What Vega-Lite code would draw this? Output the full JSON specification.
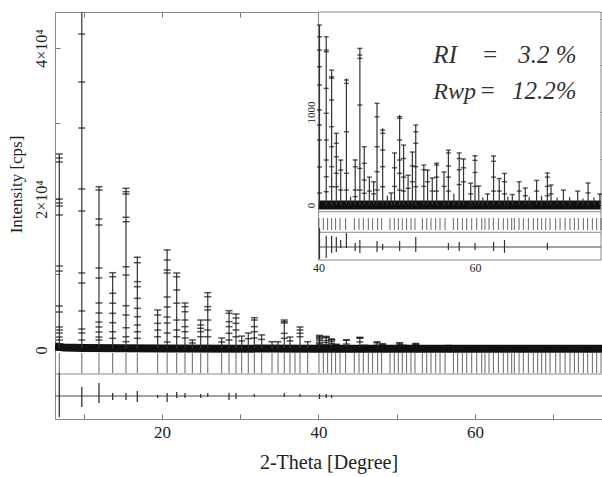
{
  "$schema": "https://vega.github.io/schema/vega-lite/v6.json",
  "width": 547,
  "height": 407,
  "autosize": {"type": "none"},
  "padding": {"left": 55, "top": 12, "right": 0, "bottom": 58},
  "config": {
    "view": {"stroke": null},
    "font": "Liberation Serif",
    "axis": {"grid": false, "labelFont": "Liberation Serif", "titleFont": "Liberation Serif", "labelColor": "#222", "titleColor": "#222", "titleFontWeight": "normal", "domainColor": "#888", "tickColor": "#777", "labelFlush": false, "labelOverlap": false}
  },
  "datasets": {
    "peaks": [
      {"t": 6.88, "h": 25960, "o": [25960, 25430, 24900, 20000, 19470, 19070, 17880, 11130, 10460, 5830, 5030, 3050, 2650, 2250, 1720, 1320]},
      {"t": 9.755, "h": 60000, "o": [41850, 35500, 29400, 21320, 18410, 10200, 8870, 5170, 2780, 2250, 1320]},
      {"t": 11.95, "h": 21630, "o": [21630, 21190, 17350, 16560, 10860, 9540, 6230, 4900, 3710, 3050, 2380, 1720, 1320]},
      {"t": 13.7, "h": 10240, "o": [10240, 9710, 7510, 6190, 4860, 3620, 2420, 1550]},
      {"t": 15.4, "h": 21450, "o": [21420, 20970, 20660, 17580, 16990, 11030, 9930, 5870, 4640, 2950, 1760, 1100]},
      {"t": 16.85, "h": 12360, "o": [12280, 11560, 9050, 8380, 6850, 5520, 4410, 3310, 2420, 1550]},
      {"t": 19.45, "h": 5300, "o": [5300, 4640, 3530, 2650, 1760]},
      {"t": 20.66, "h": 13300, "o": [13250, 11920, 10600, 10200, 7020, 5700, 4370, 3580, 2250, 1060]},
      {"t": 21.88, "h": 10200, "o": [10200, 9710, 7950, 6190, 3970, 2650, 1760]},
      {"t": 22.94, "h": 6220, "o": [6230, 5740, 5070, 3970, 3090, 2420, 1590]},
      {"t": 23.88, "h": 1325, "o": [1325, 930]},
      {"t": 24.95, "h": 3970, "o": [3970, 3310, 2870, 2420, 1760]},
      {"t": 25.85, "h": 7600, "o": [7590, 7060, 5740, 5300, 3970, 2650, 1760]},
      {"t": 27.63, "h": 1590, "o": [1590, 1060]},
      {"t": 28.57, "h": 5210, "o": [5210, 4860, 3750, 3090, 2210, 1320]},
      {"t": 29.46, "h": 4770, "o": [4770, 4240, 3530, 2650, 1760]},
      {"t": 30.19, "h": 1850, "o": [1850, 1200]},
      {"t": 31.03, "h": 2250, "o": [2250, 1500]},
      {"t": 31.8, "h": 4280, "o": [4280, 3970, 3090, 2420, 1590]},
      {"t": 32.74, "h": 2000, "o": [2000, 1400]},
      {"t": 34.06, "h": 1100, "o": [1100]},
      {"t": 34.83, "h": 1100, "o": [1100]},
      {"t": 35.63, "h": 3970, "o": [3970, 3750, 3580, 2210, 1550]},
      {"t": 36.36, "h": 1720, "o": [1720, 1200]},
      {"t": 37.64, "h": 3050, "o": [3050, 2650, 2210, 1760]},
      {"t": 38.62, "h": 1100, "o": [1100]},
      {"t": 40.13, "h": 1935, "o": [1935, 1809, 1666, 1487, 1290, 1021, 860, 699, 409, 129]},
      {"t": 40.99, "h": 1810, "o": [1809, 1666, 1648, 1254, 986, 699, 484, 304, 143]},
      {"t": 41.68, "h": 1450, "o": [1451, 1379, 1362, 1129, 842, 627, 412, 197]},
      {"t": 42.28, "h": 770, "o": [771, 663, 519, 341, 197]},
      {"t": 42.84, "h": 485, "o": [484, 376, 161]},
      {"t": 43.57, "h": 1360, "o": [1344, 1308, 788, 341, 161]},
      {"t": 44.1, "h": 90, "o": []},
      {"t": 44.69, "h": 490, "o": [484, 412, 161, 90]},
      {"t": 45.29, "h": 1685, "o": [1684, 1613, 1577, 1075, 394, 161]},
      {"t": 45.85, "h": 625, "o": [627, 448, 269, 126]},
      {"t": 46.5, "h": 300, "o": [300, 150]},
      {"t": 47.05, "h": 250, "o": [250, 120]},
      {"t": 47.48, "h": 1095, "o": [1093, 949, 627, 358, 161]},
      {"t": 48.2, "h": 825, "o": [806, 771, 591, 412, 197]},
      {"t": 48.8, "h": 100, "o": []},
      {"t": 49.29, "h": 130, "o": [130]},
      {"t": 49.72, "h": 560, "o": [560, 400, 200]},
      {"t": 50.37, "h": 970, "o": [949, 932, 699, 484, 341, 161]},
      {"t": 50.88, "h": 645, "o": [645, 500, 300, 150]},
      {"t": 51.45, "h": 320, "o": [320, 180]},
      {"t": 52.0, "h": 570, "o": [570, 420, 250]},
      {"t": 52.43, "h": 860, "o": [860, 788, 663, 412, 197]},
      {"t": 53.46, "h": 430, "o": [430, 380, 200]},
      {"t": 53.94, "h": 376, "o": [376, 250]},
      {"t": 54.54, "h": 290, "o": [290, 150]},
      {"t": 55.1, "h": 450, "o": [450, 430, 300, 150]},
      {"t": 56.04, "h": 355, "o": [355, 200]},
      {"t": 56.6, "h": 590, "o": [590, 560, 420, 300, 150]},
      {"t": 57.3, "h": 120, "o": []},
      {"t": 57.98, "h": 560, "o": [560, 500, 380, 220]},
      {"t": 58.54, "h": 495, "o": [495, 400, 250]},
      {"t": 59.45, "h": 235, "o": [235, 120]},
      {"t": 60.0, "h": 530, "o": [530, 480, 350, 200]},
      {"t": 60.48, "h": 205, "o": [205]},
      {"t": 61.0, "h": 80, "o": []},
      {"t": 61.6, "h": 120, "o": [120]},
      {"t": 62.37, "h": 527, "o": [527, 470, 300, 150]},
      {"t": 63.1, "h": 285, "o": [285, 150]},
      {"t": 63.77, "h": 340, "o": [340, 250, 120]},
      {"t": 64.2, "h": 90, "o": []},
      {"t": 64.77, "h": 113, "o": [113]},
      {"t": 65.64, "h": 250, "o": [250, 150]},
      {"t": 66.43, "h": 183, "o": [183, 100]},
      {"t": 66.93, "h": 86, "o": []},
      {"t": 67.87, "h": 265, "o": [265, 150]},
      {"t": 68.5, "h": 100, "o": []},
      {"t": 69.25, "h": 344, "o": [344, 300, 200, 100]},
      {"t": 69.72, "h": 215, "o": [215, 120]},
      {"t": 70.5, "h": 80, "o": []},
      {"t": 71.3, "h": 160, "o": [160]},
      {"t": 72.1, "h": 86, "o": []},
      {"t": 73.12, "h": 150, "o": [150]},
      {"t": 73.8, "h": 70, "o": []},
      {"t": 74.45, "h": 237, "o": [237, 130]},
      {"t": 75.2, "h": 80, "o": []},
      {"t": 75.96, "h": 118, "o": [118]}
    ],
    "refl": [
      {"t": 6.88}, {"t": 9.755}, {"t": 11.95}, {"t": 13.7}, {"t": 15.4}, {"t": 16.85}, {"t": 19.45}, {"t": 20.66}, {"t": 21.88}, {"t": 22.94},
      {"t": 23.88}, {"t": 24.95}, {"t": 25.85}, {"t": 27.63}, {"t": 28.57}, {"t": 29.46}, {"t": 30.19}, {"t": 31.03}, {"t": 31.8}, {"t": 32.74},
      {"t": 34.06}, {"t": 34.83}, {"t": 35.63}, {"t": 36.36}, {"t": 37.0}, {"t": 37.64}, {"t": 38.62},
      {"t": 40.06}, {"t": 40.62}, {"t": 41.17}, {"t": 41.68}, {"t": 42.19}, {"t": 42.75}, {"t": 43.47}, {"t": 44.58}, {"t": 45.18}, {"t": 45.73},
      {"t": 46.37}, {"t": 46.92}, {"t": 47.56}, {"t": 48.07}, {"t": 49.14}, {"t": 49.69}, {"t": 50.2}, {"t": 50.71}, {"t": 51.26}, {"t": 51.82},
      {"t": 52.33}, {"t": 53.27}, {"t": 53.83}, {"t": 54.38}, {"t": 54.98}, {"t": 55.53}, {"t": 56.17}, {"t": 57.24}, {"t": 57.79}, {"t": 58.39},
      {"t": 58.94}, {"t": 59.58}, {"t": 60.22}, {"t": 60.86}, {"t": 61.28}, {"t": 61.79}, {"t": 62.35}, {"t": 62.99}, {"t": 63.62}, {"t": 64.18},
      {"t": 64.69}, {"t": 65.03}, {"t": 65.63}, {"t": 66.18}, {"t": 66.82}, {"t": 67.46}, {"t": 68.01}, {"t": 68.52}, {"t": 69.04}, {"t": 69.59},
      {"t": 70.31}, {"t": 70.87}, {"t": 71.51}, {"t": 72.14}, {"t": 72.7}, {"t": 73.21}, {"t": 73.85}, {"t": 74.4}, {"t": 75.0}, {"t": 75.55}, {"t": 76.11}
    ],
    "dmain": [
      {"t": 6.88, "lo": -8870, "hi": -3000},
      {"t": 9.755, "lo": -7550, "hi": -4900},
      {"t": 11.95, "lo": -7020, "hi": -4370},
      {"t": 13.7, "lo": -6620, "hi": -5700},
      {"t": 15.4, "lo": -6620, "hi": -5700},
      {"t": 16.85, "lo": -6890, "hi": -5430},
      {"t": 19.45, "lo": -6360, "hi": -5960},
      {"t": 20.66, "lo": -6890, "hi": -5700},
      {"t": 21.88, "lo": -6360, "hi": -5560},
      {"t": 22.94, "lo": -6360, "hi": -5700},
      {"t": 24.95, "lo": -6360, "hi": -5830},
      {"t": 25.85, "lo": -6230, "hi": -5700},
      {"t": 28.57, "lo": -6620, "hi": -5700},
      {"t": 29.46, "lo": -6490, "hi": -5700},
      {"t": 31.8, "lo": -6230, "hi": -5830},
      {"t": 35.63, "lo": -6230, "hi": -5700},
      {"t": 37.64, "lo": -6230, "hi": -5830},
      {"t": 40.13, "lo": -6490, "hi": -5830},
      {"t": 40.99, "lo": -6360, "hi": -5830},
      {"t": 41.68, "lo": -6360, "hi": -5960}
    ],
    "dins": [
      {"t": 40.13, "lo": -580, "hi": -250},
      {"t": 40.99, "lo": -570, "hi": -330},
      {"t": 41.68, "lo": -516, "hi": -333},
      {"t": 42.28, "lo": -505, "hi": -344},
      {"t": 42.84, "lo": -462, "hi": -376},
      {"t": 43.57, "lo": -462, "hi": -301},
      {"t": 44.69, "lo": -494, "hi": -408},
      {"t": 45.29, "lo": -516, "hi": -376},
      {"t": 47.48, "lo": -505, "hi": -387},
      {"t": 48.2, "lo": -483, "hi": -419},
      {"t": 50.37, "lo": -494, "hi": -387},
      {"t": 52.43, "lo": -505, "hi": -344},
      {"t": 56.6, "lo": -483, "hi": -408},
      {"t": 57.98, "lo": -494, "hi": -398},
      {"t": 60.0, "lo": -483, "hi": -408},
      {"t": 62.37, "lo": -494, "hi": -398},
      {"t": 63.77, "lo": -516, "hi": -376},
      {"t": 69.25, "lo": -483, "hi": -408}
    ],
    "bg": [
      {"t": 6.33, "b": 450}, {"t": 7.5, "b": 330}, {"t": 10, "b": 260}, {"t": 20, "b": 200}, {"t": 40, "b": 170}, {"t": 76.23, "b": 170}
    ],
    "one": [{}]
  },
  "resolve": {"scale": {"y": "independent"}, "axis": {"x": "independent", "y": "independent"}},
  "layer": [
    {
      "resolve": {"axis": {"x": "independent", "y": "independent"}},
      "layer": [
        {
          "data": {"name": "bg"},
          "mark": {"type": "line", "color": "#111", "strokeWidth": 8, "clip": true},
          "encoding": {
            "x": {"field": "t", "type": "quantitative", "scale": {"domain": [6.33, 76.23], "nice": false, "zero": false},
              "axis": {"orient": "bottom", "values": [10, 20, 30, 40, 50, 60, 70], "labelExpr": "datum.value % 20 === 0 ? datum.label : ''", "tickSize": -5, "labelPadding": 10, "labelFontSize": 17, "title": "2-Theta [Degree]", "titleFontSize": 20, "titlePadding": 12}},
            "y": {"field": "b", "type": "quantitative", "scale": {"domain": [-9139, 44768], "nice": false, "zero": false},
              "axis": {"orient": "left", "values": [0, 10000, 20000, 30000, 40000], "labelExpr": "datum.value === 0 ? '0' : datum.value === 20000 ? '2×10⁴' : datum.value === 40000 ? '4×10⁴' : ''", "labelAngle": 270, "labelAlign": "center", "labelBaseline": "alphabetic", "labelPadding": 14, "labelFontSize": 16, "tickSize": -5, "title": "Intensity [cps]", "titleFontSize": 17, "titleAngle": 270, "titleAlign": "center", "titleBaseline": "alphabetic", "titleX": -34, "titleY": 172}}
          }
        },
        {
          "data": {"name": "peaks"},
          "mark": {"type": "rule", "color": "#333", "strokeWidth": 1.2, "clip": true},
          "encoding": {
            "x": {"field": "t", "type": "quantitative", "scale": {"domain": [6.33, 76.23], "nice": false, "zero": false},
              "axis": {"orient": "top", "values": [10, 20, 30, 40, 50, 60, 70], "labels": false, "tickSize": -5, "title": null}},
            "y": {"field": "h", "type": "quantitative", "scale": {"domain": [-9139, 44768], "nice": false, "zero": false}, "axis": null},
            "y2": {"datum": 200}
          }
        },
        {
          "data": {"name": "peaks"},
          "transform": [{"flatten": ["o"], "as": ["v"]}],
          "mark": {"type": "tick", "orient": "horizontal", "size": 7, "thickness": 1.5, "color": "#111", "clip": true},
          "encoding": {
            "x": {"field": "t", "type": "quantitative", "scale": {"domain": [6.33, 76.23], "nice": false, "zero": false}, "axis": null},
            "y": {"field": "v", "type": "quantitative", "scale": {"domain": [-9139, 44768], "nice": false, "zero": false}, "axis": null}
          }
        },
        {
          "data": {"name": "refl"},
          "mark": {"type": "rule", "color": "#666", "strokeWidth": 1},
          "encoding": {
            "x": {"field": "t", "type": "quantitative", "scale": {"domain": [6.33, 76.23], "nice": false, "zero": false}, "axis": null},
            "y": {"datum": -400, "scale": {"domain": [-9139, 44768], "nice": false, "zero": false}, "axis": null},
            "y2": {"datum": -3050}
          }
        },
        {
          "data": {"name": "one"},
          "mark": {"type": "rule", "color": "#888", "strokeWidth": 1},
          "encoding": {
            "y": {"datum": -3180, "scale": {"domain": [-9139, 44768], "nice": false, "zero": false}, "axis": null}
          }
        },
        {
          "data": {"name": "one"},
          "mark": {"type": "rule", "color": "#444", "strokeWidth": 1.2},
          "encoding": {
            "y": {"datum": -6093, "scale": {"domain": [-9139, 44768], "nice": false, "zero": false}, "axis": null}
          }
        },
        {
          "data": {"name": "dmain"},
          "mark": {"type": "rule", "color": "#333", "strokeWidth": 1.3},
          "encoding": {
            "x": {"field": "t", "type": "quantitative", "scale": {"domain": [6.33, 76.23], "nice": false, "zero": false}, "axis": null},
            "y": {"field": "lo", "type": "quantitative", "scale": {"domain": [-9139, 44768], "nice": false, "zero": false}, "axis": null},
            "y2": {"field": "hi"}
          }
        }
      ]
    },
    {
      "resolve": {"axis": {"x": "independent", "y": "independent"}},
      "layer": [
        {
          "data": {"name": "one"},
          "mark": {"type": "rect", "fill": "white", "stroke": "#888", "strokeWidth": 1},
          "encoding": {
            "x": {"datum": 40, "scale": {"domain": [6.33, 76.23], "nice": false, "zero": false},
              "axis": {"orient": "bottom", "offset": -159, "values": [40, 42, 44, 46, 48, 50, 52, 54, 56, 58, 60, 62, 64, 66, 68, 70, 72, 74, 76], "labelExpr": "datum.value === 40 ? '40' : datum.value === 60 ? '60' : ''", "tickSize": -3, "labelPadding": 5, "labelFontSize": 12, "domain": false, "title": null}},
            "x2": {"datum": 76.1},
            "y": {"datum": -591, "scale": {"domain": [-591, 2075], "range": [248, 0], "nice": false, "zero": false},
              "axis": {"orient": "left", "offset": -263, "values": [0, 500, 1000, 1500, 2000], "labelExpr": "datum.value === 0 ? '0' : datum.value === 1000 ? '1000' : ''", "labelAngle": 270, "labelAlign": "center", "labelBaseline": "alphabetic", "labelPadding": 7, "labelFontSize": 11, "tickSize": -3, "domain": false, "title": null}},
            "y2": {"datum": 2075}
          }
        },
        {
          "data": {"name": "one"},
          "mark": {"type": "rule", "color": "#111", "strokeWidth": 9},
          "encoding": {
            "x": {"datum": 40.02, "scale": {"domain": [6.33, 76.23], "nice": false, "zero": false},
              "axis": {"orient": "top", "values": [40, 42, 44, 46, 48, 50, 52, 54, 56, 58, 60, 62, 64, 66, 68, 70, 72, 74, 76], "labels": false, "tickSize": -3, "domain": false, "title": null}},
            "x2": {"datum": 76.05},
            "y": {"datum": 0, "scale": {"domain": [-591, 2075], "range": [248, 0], "nice": false, "zero": false},
              "axis": {"orient": "right", "values": [0, 500, 1000, 1500, 2000], "labels": false, "tickSize": -3, "domain": false, "title": null}}
          }
        },
        {
          "data": {"name": "peaks"},
          "transform": [{"filter": "datum.t >= 40"}],
          "mark": {"type": "rule", "color": "#333", "strokeWidth": 1.2, "clip": true},
          "encoding": {
            "x": {"field": "t", "type": "quantitative", "scale": {"domain": [6.33, 76.23], "nice": false, "zero": false}, "axis": null},
            "y": {"field": "h", "type": "quantitative", "scale": {"domain": [-591, 2075], "range": [248, 0], "nice": false, "zero": false}, "axis": null},
            "y2": {"datum": 0}
          }
        },
        {
          "data": {"name": "peaks"},
          "transform": [{"filter": "datum.t >= 40"}, {"flatten": ["o"], "as": ["v"]}],
          "mark": {"type": "tick", "orient": "horizontal", "size": 5, "thickness": 1.4, "color": "#111"},
          "encoding": {
            "x": {"field": "t", "type": "quantitative", "scale": {"domain": [6.33, 76.23], "nice": false, "zero": false}, "axis": null},
            "y": {"field": "v", "type": "quantitative", "scale": {"domain": [-591, 2075], "range": [248, 0], "nice": false, "zero": false}, "axis": null}
          }
        },
        {
          "data": {"name": "refl"},
          "transform": [{"filter": "datum.t >= 40"}],
          "mark": {"type": "rule", "color": "#666", "strokeWidth": 1},
          "encoding": {
            "x": {"field": "t", "type": "quantitative", "scale": {"domain": [6.33, 76.23], "nice": false, "zero": false}, "axis": null},
            "y": {"datum": -140, "scale": {"domain": [-591, 2075], "range": [248, 0], "nice": false, "zero": false}, "axis": null},
            "y2": {"datum": -269}
          }
        },
        {
          "data": {"name": "one"},
          "mark": {"type": "rule", "color": "#888", "strokeWidth": 1},
          "encoding": {
            "x": {"datum": 40, "scale": {"domain": [6.33, 76.23], "nice": false, "zero": false}, "axis": null},
            "x2": {"datum": 76.1},
            "y": {"datum": -72, "scale": {"domain": [-591, 2075], "range": [248, 0], "nice": false, "zero": false}, "axis": null}
          }
        },
        {
          "data": {"name": "one"},
          "mark": {"type": "rule", "color": "#888", "strokeWidth": 1},
          "encoding": {
            "x": {"datum": 40, "scale": {"domain": [6.33, 76.23], "nice": false, "zero": false}, "axis": null},
            "x2": {"datum": 76.1},
            "y": {"datum": -293, "scale": {"domain": [-591, 2075], "range": [248, 0], "nice": false, "zero": false}, "axis": null}
          }
        },
        {
          "data": {"name": "one"},
          "mark": {"type": "rule", "color": "#444", "strokeWidth": 1.2},
          "encoding": {
            "x": {"datum": 40, "scale": {"domain": [6.33, 76.23], "nice": false, "zero": false}, "axis": null},
            "x2": {"datum": 76.1},
            "y": {"datum": -451, "scale": {"domain": [-591, 2075], "range": [248, 0], "nice": false, "zero": false}, "axis": null}
          }
        },
        {
          "data": {"name": "dins"},
          "mark": {"type": "rule", "color": "#333", "strokeWidth": 1.2},
          "encoding": {
            "x": {"field": "t", "type": "quantitative", "scale": {"domain": [6.33, 76.23], "nice": false, "zero": false}, "axis": null},
            "y": {"field": "lo", "type": "quantitative", "scale": {"domain": [-591, 2075], "range": [248, 0], "nice": false, "zero": false}, "axis": null},
            "y2": {"field": "hi"}
          }
        },
        {
          "data": {"name": "one"},
          "mark": {"type": "text", "text": "RI", "font": "Liberation Serif", "fontStyle": "italic", "fontSize": 25, "color": "#333", "align": "left", "baseline": "alphabetic"},
          "encoding": {
            "x": {"datum": 54.68, "scale": {"domain": [6.33, 76.23], "nice": false, "zero": false}, "axis": null},
            "y": {"datum": 1523, "scale": {"domain": [-591, 2075], "range": [248, 0], "nice": false, "zero": false}, "axis": null}
          }
        },
        {
          "data": {"name": "one"},
          "mark": {"type": "text", "text": "=", "font": "Liberation Serif", "fontStyle": "italic", "fontSize": 25, "color": "#333", "align": "center", "baseline": "alphabetic"},
          "encoding": {
            "x": {"datum": 61.92, "scale": {"domain": [6.33, 76.23], "nice": false, "zero": false}, "axis": null},
            "y": {"datum": 1523, "scale": {"domain": [-591, 2075], "range": [248, 0], "nice": false, "zero": false}, "axis": null}
          }
        },
        {
          "data": {"name": "one"},
          "mark": {"type": "text", "text": "3.2 %", "font": "Liberation Serif", "fontStyle": "italic", "fontSize": 25, "color": "#333", "align": "right", "baseline": "alphabetic"},
          "encoding": {
            "x": {"datum": 72.97, "scale": {"domain": [6.33, 76.23], "nice": false, "zero": false}, "axis": null},
            "y": {"datum": 1523, "scale": {"domain": [-591, 2075], "range": [248, 0], "nice": false, "zero": false}, "axis": null}
          }
        },
        {
          "data": {"name": "one"},
          "mark": {"type": "text", "text": "Rwp", "font": "Liberation Serif", "fontStyle": "italic", "fontSize": 24, "color": "#333", "align": "left", "baseline": "alphabetic"},
          "encoding": {
            "x": {"datum": 54.68, "scale": {"domain": [6.33, 76.23], "nice": false, "zero": false}, "axis": null},
            "y": {"datum": 1140, "scale": {"domain": [-591, 2075], "range": [248, 0], "nice": false, "zero": false}, "axis": null}
          }
        },
        {
          "data": {"name": "one"},
          "mark": {"type": "text", "text": "=", "font": "Liberation Serif", "fontStyle": "italic", "fontSize": 25, "color": "#333", "align": "center", "baseline": "alphabetic"},
          "encoding": {
            "x": {"datum": 61.6, "scale": {"domain": [6.33, 76.23], "nice": false, "zero": false}, "axis": null},
            "y": {"datum": 1140, "scale": {"domain": [-591, 2075], "range": [248, 0], "nice": false, "zero": false}, "axis": null}
          }
        },
        {
          "data": {"name": "one"},
          "mark": {"type": "text", "text": "12.2%", "font": "Liberation Serif", "fontStyle": "italic", "fontSize": 25, "color": "#333", "align": "right", "baseline": "alphabetic"},
          "encoding": {
            "x": {"datum": 72.97, "scale": {"domain": [6.33, 76.23], "nice": false, "zero": false}, "axis": null},
            "y": {"datum": 1140, "scale": {"domain": [-591, 2075], "range": [248, 0], "nice": false, "zero": false}, "axis": null}
          }
        }
      ]
    }
  ]
}
